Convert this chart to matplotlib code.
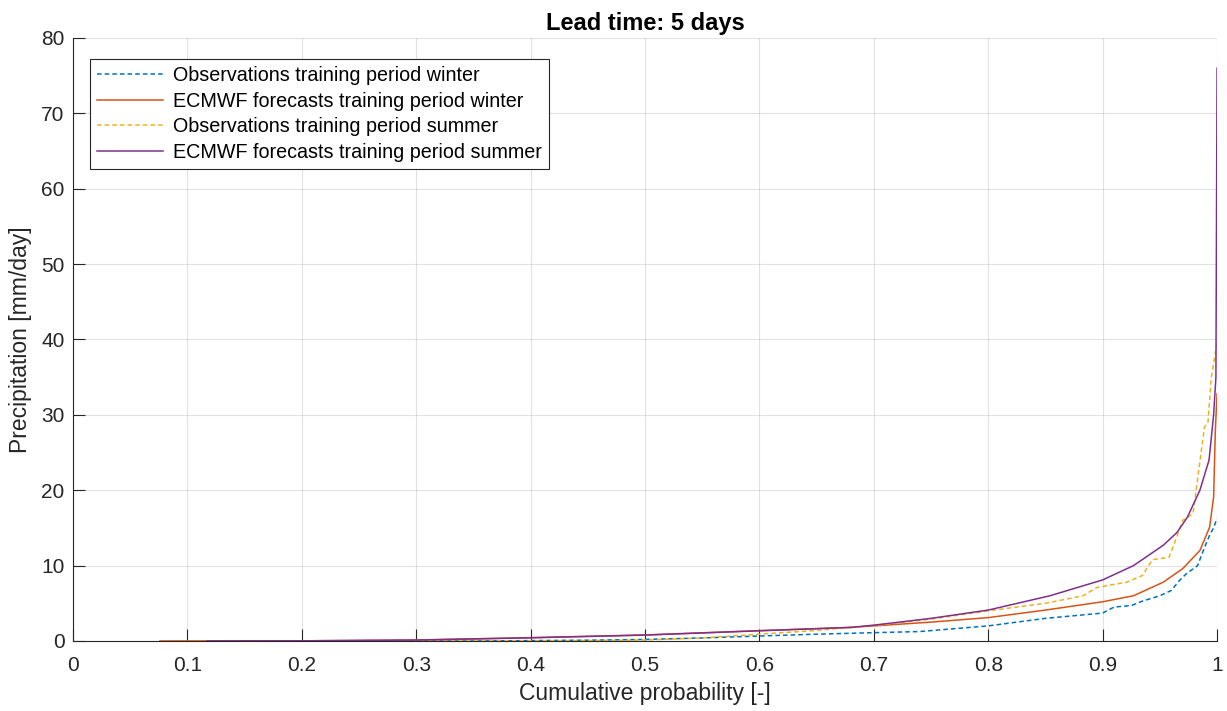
import matplotlib
matplotlib.use('Agg')
import matplotlib.pyplot as plt
import numpy as np

plt.rcParams['font.family'] = ['Liberation Sans', 'DejaVu Sans']

# cumulative probability / precipitation pairs
obs_winter_p = [0.2, 0.35, 0.4, 0.45, 0.5, 0.55, 0.6, 0.65, 0.7, 0.74, 0.8, 0.85, 0.9, 0.91,
                0.925, 0.935, 0.95, 0.96, 0.967, 0.973, 0.983, 0.989, 0.994, 0.997, 1.0]
obs_winter_y = [0, 0, 0.05, 0.1, 0.2, 0.4, 0.66, 0.9, 1.1, 1.25, 2.0, 3.0, 3.7, 4.5,
                4.7, 5.3, 6.0, 6.7, 8.0, 8.9, 10.0, 12.4, 14.2, 15.0, 16.3]

ecm_winter_p = [0.076, 0.2, 0.3, 0.4, 0.5, 0.6, 0.68, 0.7, 0.75, 0.8, 0.85, 0.9, 0.927,
                0.953, 0.97, 0.985, 0.9935, 0.997, 0.9985, 1.0]
ecm_winter_y = [0, 0.02, 0.13, 0.44, 0.8, 1.37, 1.8, 2.0, 2.5, 3.1, 4.1, 5.2, 6.0,
                7.8, 9.6, 12.0, 15.1, 19.1, 28.0, 32.8]

obs_summer_p = [0.25, 0.414, 0.45, 0.5, 0.55, 0.6, 0.65, 0.7, 0.75, 0.8, 0.85, 0.883, 0.895,
                0.921, 0.935, 0.94, 0.944, 0.958, 0.963, 0.97, 0.979, 0.985, 0.989, 0.992,
                0.995, 1.0]
obs_summer_y = [0, 0, 0.05, 0.13, 0.4, 0.9, 1.4, 2.05, 2.9, 4.0, 5.0, 6.0, 7.1,
                7.8, 8.7, 10.0, 10.8, 11.1, 13.1, 16.0, 16.9, 23.8, 28.4, 28.9,
                35.0, 39.5]

ecm_summer_p = [0.117, 0.2, 0.3, 0.4, 0.5, 0.6, 0.68, 0.7, 0.75, 0.8, 0.854, 0.9, 0.927,
                0.953, 0.965, 0.974, 0.985, 0.993, 0.997, 0.999, 1.0]
ecm_summer_y = [0, 0.02, 0.12, 0.42, 0.78, 1.35, 1.8, 2.1, 3.0, 4.1, 6.0, 8.1, 10.0,
                12.7, 14.4, 16.4, 20.0, 24.0, 30.0, 35.0, 76.0]

x_ticks = [0, 0.1, 0.2, 0.3, 0.4, 0.5, 0.6, 0.7, 0.8, 0.9, 1]
x_tick_labels = ['0', '0.1', '0.2', '0.3', '0.4', '0.5', '0.6', '0.7', '0.8', '0.9', '1']
y_ticks = [0, 10, 20, 30, 40, 50, 60, 70, 80]

fig = plt.figure(figsize=(12.27, 7.11), dpi=100)
ax = fig.add_axes([0.0595, 0.0985, 0.9324, 0.8481])

dark = '#262626'
ax.plot(obs_winter_p, obs_winter_y, '--', color='#0072BD', lw=1.1, dashes=(3, 2),
        label='Observations training period winter')
ax.plot(ecm_winter_p, ecm_winter_y, '-', color='#D95319', lw=1.1,
        label='ECMWF forecasts training period winter')
ax.plot(obs_summer_p, obs_summer_y, '--', color='#EDB120', lw=1.1, dashes=(3, 2),
        label='Observations training period summer')
ax.plot(ecm_summer_p, ecm_summer_y, '-', color='#7E2F8E', lw=1.1,
        label='ECMWF forecasts training period summer')

ax.set_xlim(0, 1)
ax.set_ylim(0, 80)
ax.set_xticks(x_ticks)
ax.set_xticklabels(x_tick_labels)
ax.set_yticks(y_ticks)
ax.grid(True, color='#262626', alpha=0.13, lw=0.8)
ax.set_axisbelow(True)
ax.tick_params(direction='in', length=8.3, width=0.8, colors=dark, labelsize=15, pad=6)
ax.tick_params(axis='x', pad=11)
for s in ['top', 'right']:
    ax.spines[s].set_visible(False)
for s in ['left', 'bottom']:
    ax.spines[s].set_color(dark)
    ax.spines[s].set_linewidth(0.8)

ax.set_xlabel('Cumulative probability [-]', fontsize=16.5, color=dark, labelpad=5)
ax.set_ylabel('Precipitation [mm/day]', fontsize=16.5, color=dark, labelpad=7)
ax.set_title('Lead time: 5 days', fontsize=17, fontweight='bold', color='black', pad=6)

leg = ax.legend(loc='upper left', bbox_to_anchor=(0.0149, 0.965), borderaxespad=0,
                fontsize=14.2, frameon=True, fancybox=False, edgecolor=dark, framealpha=1,
                handlelength=3.35, borderpad=0.36, labelspacing=0.33, handletextpad=0.5)
leg.get_frame().set_linewidth(0.8)
for t in leg.get_texts():
    t.set_color('black')

fig.savefig('out.png', dpi=100)
